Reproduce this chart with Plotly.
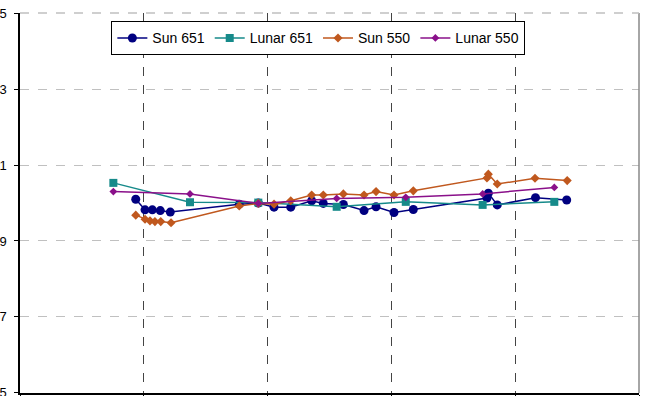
import plotly.graph_objects as go

# Data (x in gridline units, y ratio)
sun651_x = [0.935, 1.010, 1.069, 1.133, 1.214, 1.771, 1.925, 2.052, 2.187, 2.356, 2.450,
            2.612, 2.779, 2.876, 3.021, 3.177, 3.772, 3.783, 3.855, 4.164, 4.416]
sun651_y = [1.0010, 0.9982, 0.9982, 0.9980, 0.9976, 0.9997, 1.0000, 0.9989, 0.9989, 1.0006, 0.9999,
            0.9996, 0.9980, 0.9990, 0.9975, 0.9983, 1.0013, 1.0026, 0.9995, 1.0014, 1.0008]

lunar651_x = [0.754, 1.373, 1.925, 2.558, 3.116, 3.737, 4.316]
lunar651_y = [1.0053, 1.0002, 1.0001, 0.9990, 1.0003, 0.9995, 1.0003]

sun550_x = [0.935, 1.010, 1.050, 1.090, 1.137, 1.220, 1.771, 1.925, 2.052, 2.187, 2.356,
            2.450, 2.612, 2.779, 2.876, 3.021, 3.177, 3.772, 3.783, 3.855, 4.160, 4.420]
sun550_y = [0.9968, 0.9957, 0.9953, 0.9951, 0.9951, 0.9948, 0.9992, 0.9999, 0.9997, 1.0006, 1.0021,
            1.0021, 1.0024, 1.0021, 1.0030, 1.0021, 1.0032, 1.0066, 1.0076, 1.0050, 1.0065, 1.0059]

lunar550_x = [0.754, 1.373, 1.925, 2.558, 3.116, 3.737, 4.316]
lunar550_y = [1.0030, 1.0024, 0.9999, 1.0012, 1.0015, 1.0024, 1.0041]

y_ticks = [0.95, 0.97, 0.99, 1.01, 1.03, 1.05]

FONT = "Liberation Sans, Arial, sans-serif"

fig = go.Figure()
fig.add_trace(go.Scatter(x=sun651_x, y=sun651_y, name="Sun 651", mode="lines+markers",
                         line=dict(color="#000080", width=1.5),
                         marker=dict(symbol="circle", size=9, color="#000080")))
fig.add_trace(go.Scatter(x=lunar651_x, y=lunar651_y, name="Lunar 651", mode="lines+markers",
                         line=dict(color="#168a8a", width=1.5),
                         marker=dict(symbol="square", size=8, color="#168a8a")))
fig.add_trace(go.Scatter(x=sun550_x, y=sun550_y, name="Sun 550", mode="lines+markers",
                         line=dict(color="#c0581e", width=1.5),
                         marker=dict(symbol="diamond", size=7, color="#c0581e")))
fig.add_trace(go.Scatter(x=lunar550_x, y=lunar550_y, name="Lunar 550", mode="lines+markers",
                         line=dict(color="#8a108a", width=1.5),
                         marker=dict(symbol="diamond", size=6, color="#8a108a")))

fig.update_layout(
    width=646, height=396,
    margin=dict(l=20, r=7, t=13, b=3),
    paper_bgcolor="white", plot_bgcolor="white",
    font=dict(family=FONT, size=12, color="black"),
    showlegend=True,
    legend=dict(orientation="h", x=0.482, xanchor="center", y=0.978, yanchor="top",
                bgcolor="white", bordercolor="black", borderwidth=1,
                font=dict(family=FONT, size=14, color="black"),
                itemwidth=30, tracegroupgap=0),
    xaxis=dict(range=[0, 5], dtick=1, tick0=0, showticklabels=False, automargin=False,
               showgrid=True, gridcolor="#444444", griddash="dash", gridwidth=1,
               showline=True, linecolor="black", linewidth=1.5,
               ticks="outside", ticklen=4, tickcolor="black", zeroline=False),
    yaxis=dict(range=[0.94995, 1.05005], tickvals=y_ticks, tickformat=".2f", automargin=False,
               showgrid=True, gridcolor="#c0c0c0", griddash="dash", gridwidth=1,
               showline=True, linecolor="black", linewidth=1.5,
               ticks="outside", ticklen=4, tickcolor="black", zeroline=False,
               ticklabelstandoff=5, ticklabeloverflow="allow",
               tickfont=dict(family=FONT, size=13, color="black")),
)
fig.add_shape(type="line", xref="paper", yref="paper", x0=1, x1=1, y0=0, y1=1,
              line=dict(color="#888888", width=1.5))
fig.add_shape(type="line", xref="paper", yref="paper", x0=0, x1=1, y0=1, y1=1,
              line=dict(color="#c0c0c0", width=1.5, dash="dash"))

fig.write_html("out.html")
